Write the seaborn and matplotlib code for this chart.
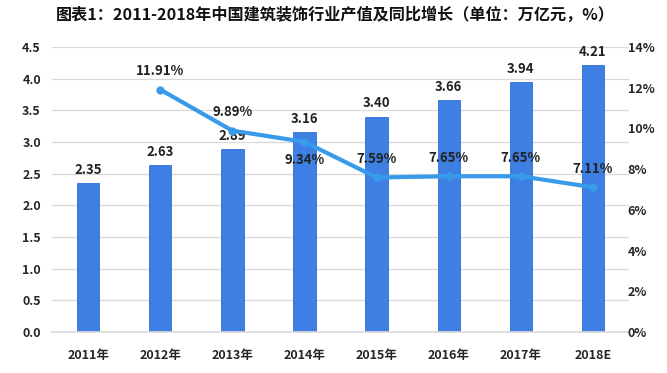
"""2011-2018 building decoration output value and yoy growth"""

import numpy as np
import pandas as pd
import seaborn as sns
import matplotlib.pyplot as plt
from matplotlib.ticker import FuncFormatter

years = ["2011年", "2012年", "2013年", "2014年", "2015年", "2016年", "2017年", "2018E"]
output_value = [2.35, 2.63, 2.89, 3.16, 3.40, 3.66, 3.94, 4.21]
growth = [np.nan, 11.91, 9.89, 9.34, 7.59, 7.65, 7.65, 7.11]
growth_label_below = [False, False, False, True, False, False, False, False]

BAR_COLOR = "#3D7FE3"
LINE_COLOR = "#3A9AEA"

sns.set_theme(style="white")
plt.rcParams["font.family"] = ["Noto Sans CJK SC", "DejaVu Sans"]

df = pd.DataFrame({"year": years, "value": output_value, "growth": growth})
df["pos"] = np.arange(len(df))

fig = plt.figure(figsize=(6.67, 3.73), dpi=100)
ax = fig.add_axes([0.078, 0.110, 0.865, 0.764])

sns.barplot(data=df, x="year", y="value", color=BAR_COLOR, width=0.31,
            saturation=1, edgecolor="#2E6FD6", linewidth=0.6, ax=ax)
ax.set_ylim(0, 4.5)
ax.set_yticks(np.arange(0, 4.51, 0.5))
ax.yaxis.set_major_formatter(FuncFormatter(lambda v, _: f"{v:.1f}"))
ax.set_xlim(-0.5, len(years) - 0.5)
ax.grid(axis="y", color="#D9D9D9", linewidth=0.9)
ax.set_axisbelow(True)
ax.set_xlabel("")
ax.set_ylabel("")
for side in ["top", "right", "left"]:
    ax.spines[side].set_visible(False)
ax.spines["bottom"].set_color("#D9D9D9")
ax.tick_params(axis="both", length=0, labelsize=9, pad=12)
ax.tick_params(axis="y", pad=8)
for lbl in ax.get_xticklabels() + ax.get_yticklabels():
    lbl.set_fontweight("bold")

for i, v in enumerate(output_value):
    ax.text(i, v + 0.10, f"{v:.2f}", ha="center", va="bottom", fontsize=9.5,
            fontweight="bold", color="#222222")

ax2 = ax.twinx()
sns.lineplot(data=df, x="pos", y="growth", color=LINE_COLOR, linewidth=3,
             marker="o", markersize=6, markeredgewidth=0, ax=ax2)
ax2.set_ylim(0, 14)
ax2.set_yticks(np.arange(0, 14.1, 2))
ax2.yaxis.set_major_formatter(FuncFormatter(lambda v, _: f"{v:.0f}%"))
ax2.set_xlim(-0.5, len(years) - 0.5)
ax2.set_xlabel("")
ax2.set_ylabel("")
for side in ["top", "right", "left", "bottom"]:
    ax2.spines[side].set_visible(False)
ax2.tick_params(axis="y", length=0, labelsize=9, pad=-1)
for lbl in ax2.get_yticklabels():
    lbl.set_fontweight("bold")

for i, g in enumerate(growth):
    if np.isnan(g):
        continue
    if growth_label_below[i]:
        ax2.text(i, g - 0.55, f"{g:.2f}%", ha="center", va="top", fontsize=9.5,
                 fontweight="bold", color="#222222")
    else:
        ax2.text(i, g + 0.55, f"{g:.2f}%", ha="center", va="bottom", fontsize=9.5,
                 fontweight="bold", color="#222222")

fig.text(0.083, 0.962, "图表1：2011-2018年中国建筑装饰行业产值及同比增长（单位：万亿元，%）",
         ha="left", va="center", fontsize=11.6, fontweight="bold", color="#111111")

fig.savefig("out.png", dpi=100)
